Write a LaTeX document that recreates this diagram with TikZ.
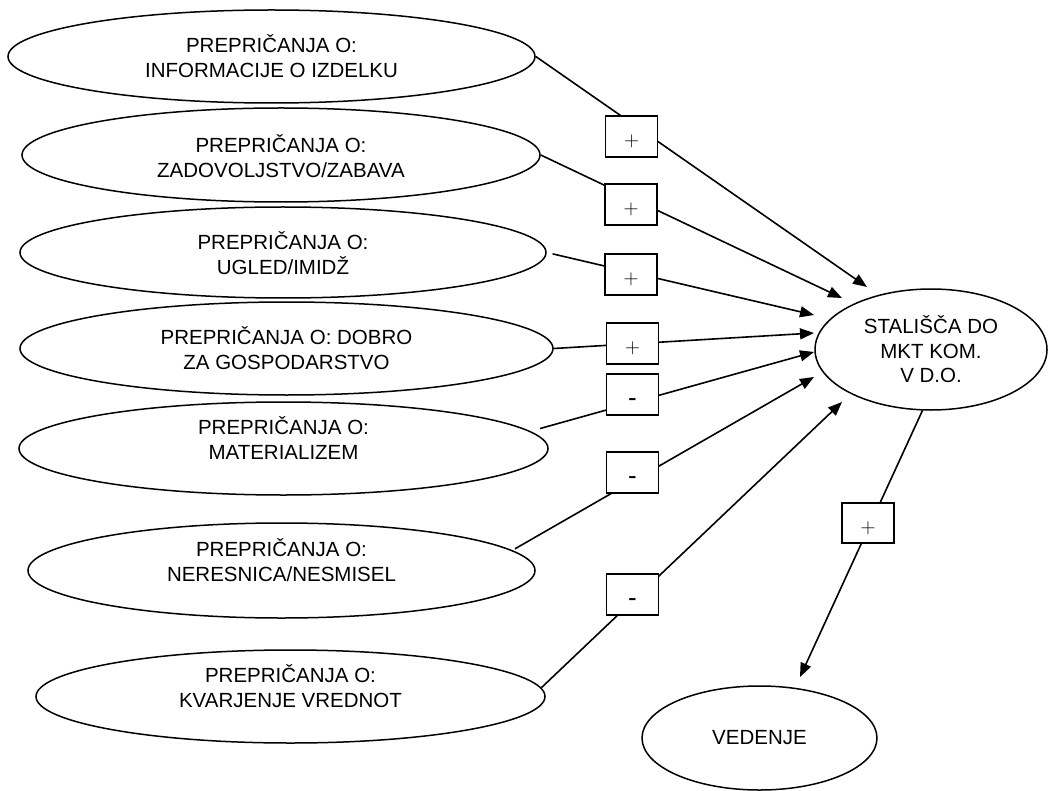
\documentclass[tikz,border=0pt]{standalone}
\usepackage{fontspec}
\setmainfont{Liberation Sans}
\usetikzlibrary{shapes.geometric,arrows.meta}
\begin{document}
\begin{tikzpicture}[x=1pt,y=-1pt,
  ell/.style={ellipse,draw,line width=1.5pt,inner sep=0pt},
  lab/.style={align=center,inner sep=0pt,font=\fontsize{20.5}{25}\selectfont},
  sign/.style={draw,fill=white,line width=1.2pt,minimum width=52pt,minimum height=41pt,
    inner sep=0pt,text height=20pt,text depth=0pt,font=\fontsize{20}{24}\selectfont},
  minus/.style={sign,text height=24pt,font=\fontsize{26}{28}\selectfont},
  conn/.style={line width=1.6pt,-{Triangle[length=14pt,width=11pt]}}]
\useasboundingbox[fill=white] (0,0) rectangle (1048,791);
% belief ellipses
\node[ell,minimum width=527pt,minimum height=93pt] (e1) at (271.5,56.5) {};
\node[ell,minimum width=518pt,minimum height=94pt] (e2) at (281,155) {};
\node[ell,minimum width=526pt,minimum height=91pt] (e3) at (283,252.5) {};
\node[ell,minimum width=533pt,minimum height=93pt] (e4) at (286.5,348.5) {};
\node[ell,minimum width=529pt,minimum height=93pt] (e5) at (283.5,448.5) {};
\node[ell,minimum width=507pt,minimum height=95pt] (e6) at (281.5,570.5) {};
\node[ell,minimum width=509pt,minimum height=93pt] (e7) at (290.5,696.5) {};
\node[lab] (e1t) at (e1.center) {PREPRIČANJA O:\\INFORMACIJE O IZDELKU};
\node[lab] (e2t) at ([yshift=-1pt]e2.center) {PREPRIČANJA O:\\ZADOVOLJSTVO/ZABAVA};
\node[lab] (e3t) at ([yshift=-1pt]e3.center) {PREPRIČANJA O:\\UGLED/IMIDŽ};
\node[lab] (e4t) at (e4.center) {PREPRIČANJA O: DOBRO\\ZA GOSPODARSTVO};
\node[lab] (e5t) at ([yshift=10pt]e5.center) {PREPRIČANJA O:\\MATERIALIZEM};
\node[lab] (e6t) at ([yshift=10pt]e6.center) {PREPRIČANJA O:\\NERESNICA/NESMISEL};
\node[lab] (e7t) at ([yshift=10pt]e7.center) {PREPRIČANJA O:\\KVARJENJE VREDNOT};
% attitude and behaviour
\node[ell,minimum width=232pt,minimum height=121pt] (s) at (931,349.5) {};
\node[lab,font=\fontsize{20.5}{24.5}\selectfont] (st) at (s.center) {STALIŠČA DO\\MKT KOM.\\V D.O.};
\node[ell,minimum width=235pt,minimum height=104pt] (v) at (759.5,738) {};
\node[lab] (vt) at (v.center) {VEDENJE};
% arrow tips
\coordinate (t1) at (867,287);
\coordinate (t2) at (842,298);
\coordinate (t3) at (814,315);
\coordinate (t4) at (814,333);
\coordinate (t5) at (814,352);
\coordinate (t6) at (814,377);
\coordinate (t7) at (842,402);
\coordinate (tv) at (800,677);
% connectors
\draw[conn] (e1.-0.8) -- (t1);
\draw[conn] (e2.east) -- (t2);
\draw[conn,shorten <=6pt] (e3.-0.3) -- (t3);
\draw[conn] (e4.0.75) -- (t4);
\draw[conn,shorten <=10pt] (e5.4.8) -- (t5);
\draw[conn,shorten <=3pt] (e6.5.7) -- (t6);
\draw[conn] (e7.2.1) -- (t7);
\draw[conn] (s.-98) -- (tv);
% sign boxes
\node[sign] (b1) at (631.5,136.5) {$+$};
\node[sign] (b2) at (631,204.5) {$+$};
\node[sign] (b3) at (631,274.5) {$+$};
\node[sign] (b4) at (632.5,343.5) {$+$};
\node[minus] (b5) at (632.5,394.5) {-};
\node[minus] (b6) at (632.5,472.5) {-};
\node[minus] (b7) at (632.5,594.5) {-};
\node[sign,minimum height=40pt] (b8) at (868,523) {$+$};
\end{tikzpicture}
\end{document}
